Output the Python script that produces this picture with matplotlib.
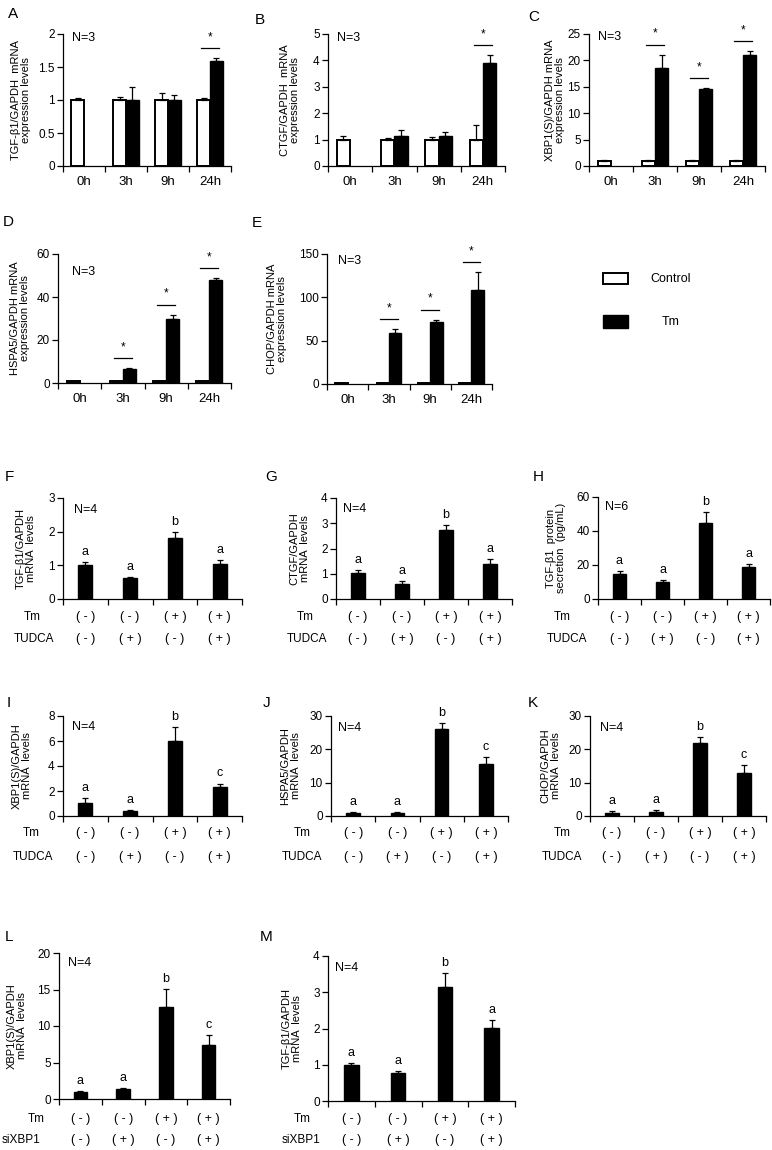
import matplotlib
matplotlib.use("Agg")
import matplotlib.pyplot as plt
import numpy as np
from matplotlib.transforms import offset_copy
from matplotlib.patches import Rectangle

plt.rcParams['font.family'] = ['Liberation Sans', 'DejaVu Sans']
plt.rcParams['font.size'] = 8
plt.rcParams['axes.linewidth'] = 0.9

# ---------------- data ----------------
times = ["0h", "3h", "9h", "24h"]

# time course (Control vs Tm); None = no bar
a_ctrl, a_ctrl_err = [1.0, 1.0, 1.0, 1.0], [0.03, 0.05, 0.1, 0.03]
a_tm, a_tm_err = [None, 1.0, 1.0, 1.59], [0, 0.2, 0.07, 0.04]
a_sig = [3]

b_ctrl, b_ctrl_err = [1.0, 1.0, 1.0, 1.0], [0.15, 0.05, 0.1, 0.55]
b_tm, b_tm_err = [None, 1.15, 1.15, 3.9], [0, 0.2, 0.12, 0.3]
b_sig = [3]

c_ctrl, c_ctrl_err = [1.0, 1.0, 1.0, 1.0], [0.1, 0.1, 0.1, 0.1]
c_tm, c_tm_err = [None, 18.5, 14.5, 21.0], [0, 2.6, 0.2, 0.7]
c_sig = [1, 2, 3]

d_ctrl, d_ctrl_err = [1.0, 1.0, 1.0, 1.0], [0.1, 0.1, 0.1, 0.1]
d_tm, d_tm_err = [None, 6.5, 30.0, 48.0], [0, 0.3, 1.8, 0.8]
d_sig = [1, 2, 3]

e_ctrl, e_ctrl_err = [1.5, 1.5, 1.5, 1.5], [0.2, 0.2, 0.2, 0.2]
e_tm, e_tm_err = [None, 59.0, 72.0, 109.0], [0, 4.0, 2.0, 20.0]
e_sig = [1, 2, 3]

# treatment panels
tm_signs = ["( - )", "( - )", "( + )", "( + )"]
drug_signs = ["( - )", "( + )", "( - )", "( + )"]

f_vals, f_err, f_let = [1.0, 0.62, 1.82, 1.05], [0.1, 0.04, 0.18, 0.1], ["a", "a", "b", "a"]
g_vals, g_err, g_let = [1.02, 0.6, 2.75, 1.4], [0.13, 0.1, 0.18, 0.17], ["a", "a", "b", "a"]
h_vals, h_err, h_let = [14.5, 10.0, 44.5, 19.0], [2.2, 1.0, 6.5, 1.5], ["a", "a", "b", "a"]
i_vals, i_err, i_let = [1.05, 0.4, 6.0, 2.35], [0.4, 0.05, 1.15, 0.25], ["a", "a", "b", "c"]
j_vals, j_err, j_let = [1.0, 1.0, 26.0, 15.5], [0.2, 0.2, 2.0, 2.3], ["a", "a", "b", "c"]
k_vals, k_err, k_let = [1.0, 1.3, 22.0, 13.0], [0.5, 0.5, 1.6, 2.2], ["a", "a", "b", "c"]
l_vals, l_err, l_let = [1.0, 1.4, 12.6, 7.4], [0.1, 0.1, 2.5, 1.3], ["a", "a", "b", "c"]
m_vals, m_err, m_let = [1.0, 0.78, 3.15, 2.02], [0.06, 0.05, 0.38, 0.22], ["a", "a", "b", "a"]

# ---------------- layout helpers ----------------
W, H = 772, 1150
fig = plt.figure(figsize=(W / 100, H / 100), dpi=100)


def px_axes(l, t, r, b):
    return fig.add_axes([l / W, 1 - b / H, (r - l) / W, (b - t) / H])


def ftext(x, y, s, **kw):
    fig.text(x / W, 1 - y / H, s, **kw)


def base_style(ax, ymax, step):
    ax.set_xlim(-0.5, 3.5)
    ax.set_ylim(0, ymax)
    ax.set_yticks(np.arange(0, ymax + step / 2, step))
    ax.yaxis.set_major_formatter('{x:g}')
    ax.spines[['top', 'right']].set_visible(False)
    ax.set_xticks(np.arange(-0.5, 4, 1))
    ax.set_xticklabels([])
    ax.tick_params(axis='x', which='major', length=4, width=0.9)
    ax.tick_params(axis='y', length=4, width=0.9, pad=2, labelsize=8.5)


def ylab(ax, box, xc, text):
    l, t, r, b = box
    ax.text((xc - l) / (r - l), 0.5, text, rotation=90, ha='center', va='center',
            transform=ax.transAxes, multialignment='center', linespacing=1.1)


def time_panel(box, ctrl, ctrl_err, tm, tm_err, sig, ymax, step, label, lab_x, npos):
    ax = px_axes(*box)
    x = np.arange(4)
    ax.bar(x - 0.15, ctrl, 0.3, color='white', edgecolor='black', linewidth=1.4)
    ax.errorbar(x - 0.15, ctrl, yerr=[np.zeros(4), ctrl_err], fmt='none',
                ecolor='black', elinewidth=0.9, capsize=2.5, capthick=0.9)
    idx = [i for i in range(4) if tm[i] is not None]
    tv = [tm[i] for i in idx]
    te = [tm_err[i] for i in idx]
    xi = np.array(idx) + 0.15
    ax.bar(xi, tv, 0.3, color='black', edgecolor='black', linewidth=1.0)
    ax.errorbar(xi, tv, yerr=[np.zeros(len(idx)), te], fmt='none',
                ecolor='black', elinewidth=0.9, capsize=2.5, capthick=0.9)
    base_style(ax, ymax, step)
    ax.set_xticks(x, times, minor=True)
    ax.tick_params(axis='x', which='minor', length=0, pad=7, labelsize=9.5)
    line_tr = offset_copy(ax.transData, fig=fig, y=10 * 0.72, units='points')
    star_tr = offset_copy(ax.transData, fig=fig, y=21 * 0.72, units='points')
    for i in sig:
        top = max(tm[i] + tm_err[i], ctrl[i] + ctrl_err[i])
        ax.plot([i - 0.21, i + 0.21], [top, top], color='black', lw=0.9,
                transform=line_tr, clip_on=False)
        ax.text(i, top, "*", ha='center', va='center', fontsize=8.5,
                transform=star_tr, clip_on=False)
    ylab(ax, box, lab_x, label)
    ax.text(npos[0], npos[1], "N=3", transform=ax.transAxes, ha='left', va='center',
            fontsize=9)
    return ax


def treat_panel(box, vals, err, lets, ymax, step, label, lab_x, ntext, npos,
                row2, rowx, rowy=(18, 40)):
    ax = px_axes(*box)
    x = np.arange(4)
    ax.bar(x, vals, 0.31, color='black', edgecolor='black', linewidth=1.0)
    ax.errorbar(x, vals, yerr=[np.zeros(4), err], fmt='none', ecolor='black',
                elinewidth=0.9, capsize=2.5, capthick=0.9)
    base_style(ax, ymax, step)
    let_tr = offset_copy(ax.transData, fig=fig, y=4 * 0.72, units='points')
    for i in range(4):
        ax.text(x[i], vals[i] + err[i], lets[i], ha='center', va='bottom',
                transform=let_tr, clip_on=False, fontsize=9)
        ax.annotate(tm_signs[i], xy=(x[i], 0), xycoords=('data', 'axes fraction'),
                    xytext=(0, -rowy[0] * 0.72), textcoords='offset points',
                    ha='center', va='center', fontsize=9)
        ax.annotate(drug_signs[i], xy=(x[i], 0), xycoords=('data', 'axes fraction'),
                    xytext=(0, -rowy[1] * 0.72), textcoords='offset points',
                    ha='center', va='center', fontsize=9)
    l, t, r, b = box
    ftext(rowx[0], b + rowy[0], "Tm", ha='center', va='center', fontsize=8.5)
    ftext(rowx[1], b + rowy[1], row2, ha='center', va='center', fontsize=8.5)
    ylab(ax, box, lab_x, label)
    ax.text(npos[0], npos[1], ntext, transform=ax.transAxes, ha='left', va='center',
            fontsize=9)
    return ax


# ---------------- time course ----------------
time_panel((63, 34, 231, 166), a_ctrl, a_ctrl_err, a_tm, a_tm_err, a_sig, 2, 0.5,
           "TGF-β1/GAPDH  mRNA\nexpression levels", 21, (0.055, 0.97))
time_panel((328, 34, 505, 166), b_ctrl, b_ctrl_err, b_tm, b_tm_err, b_sig, 5, 1,
           "CTGF/GAPDH  mRNA\nexpression levels", 290, (0.05, 0.97))
time_panel((589, 34, 765, 166), c_ctrl, c_ctrl_err, c_tm, c_tm_err, c_sig, 25, 5,
           "XBP1(S)/GAPDH mRNA\nexpression levels", 555, (0.05, 0.98))
time_panel((58, 254, 231, 383), d_ctrl, d_ctrl_err, d_tm, d_tm_err, d_sig, 60, 20,
           "HSPA5/GAPDH mRNA\nexpression levels", 20, (0.08, 0.86))
time_panel((327, 254, 492, 384), e_ctrl, e_ctrl_err, e_tm, e_tm_err, e_sig, 150, 50,
           "CHOP/GAPDH mRNA\nexpression levels", 277, (0.065, 0.95))

# legend
fig.add_artist(Rectangle((603 / W, 1 - 284 / H), 25 / W, 11 / H, transform=fig.transFigure,
                         facecolor='white', edgecolor='black', linewidth=1.4))
fig.add_artist(Rectangle((603 / W, 1 - 328 / H), 25 / W, 13 / H, transform=fig.transFigure,
                         facecolor='black', edgecolor='black', linewidth=1.0))
ftext(671, 279, "Control", ha='center', va='center', fontsize=9)
ftext(671, 322, "Tm", ha='center', va='center', fontsize=9)

# ---------------- treatment panels ----------------
treat_panel((63, 498, 242, 599), f_vals, f_err, f_let, 3, 1,
            "TGF-β1/GAPDH\nmRNA  levels", 26, "N=4", (0.06, 0.88), "TUDCA", (32, 34))
treat_panel((336, 498, 512, 599), g_vals, g_err, g_let, 4, 1,
            "CTGF/GAPDH\nmRNA  levels", 300, "N=4", (0.04, 0.89), "TUDCA", (305, 307))
treat_panel((598, 497, 770, 599), h_vals, h_err, h_let, 60, 20,
            "TGF-β1  protein\nsecretion  (pg/mL)", 556, "N=6", (0.04, 0.9), "TUDCA", (562, 567))
treat_panel((63, 716, 242, 816), i_vals, i_err, i_let, 8, 2,
            "XBP1(S)/GAPDH\nmRNA  levels", 22, "N=4", (0.05, 0.89), "TUDCA", (31, 33),
            rowy=(17, 41))
treat_panel((331, 716, 508, 816), j_vals, j_err, j_let, 30, 10,
            "HSPA5/GAPDH\nmRNA  levels", 291, "N=4", (0.04, 0.88), "TUDCA", (302, 302),
            rowy=(17, 41))
treat_panel((590, 716, 766, 816), k_vals, k_err, k_let, 30, 10,
            "CHOP/GAPDH\nmRNA  levels", 551, "N=4", (0.055, 0.88), "TUDCA", (562, 562),
            rowy=(17, 41))
treat_panel((59, 953, 230, 1099), l_vals, l_err, l_let, 20, 5,
            "XBP1(S)/GAPDH\nmRNA  levels", 17, "N=4", (0.05, 0.93), "siXBP1", (36, 21),
            rowy=(20, 41))
treat_panel((328, 956, 515, 1101), m_vals, m_err, m_let, 4, 1,
            "TGF-β1/GAPDH\nmRNA  levels", 292, "N=4", (0.04, 0.92), "siXBP1", (302, 301),
            rowy=(18, 39))

# panel letters
letters = {"A": (8, 14), "B": (255, 20), "C": (528, 17), "D": (3, 222), "E": (252, 223),
           "F": (5, 477), "G": (265, 477), "H": (533, 477), "I": (7, 703), "J": (263, 703),
           "K": (528, 703), "L": (5, 937), "M": (260, 937)}
for k, (x, y) in letters.items():
    ftext(x, y, k, ha='left', va='center', fontsize=11)

fig.savefig("out.png", dpi=100)
